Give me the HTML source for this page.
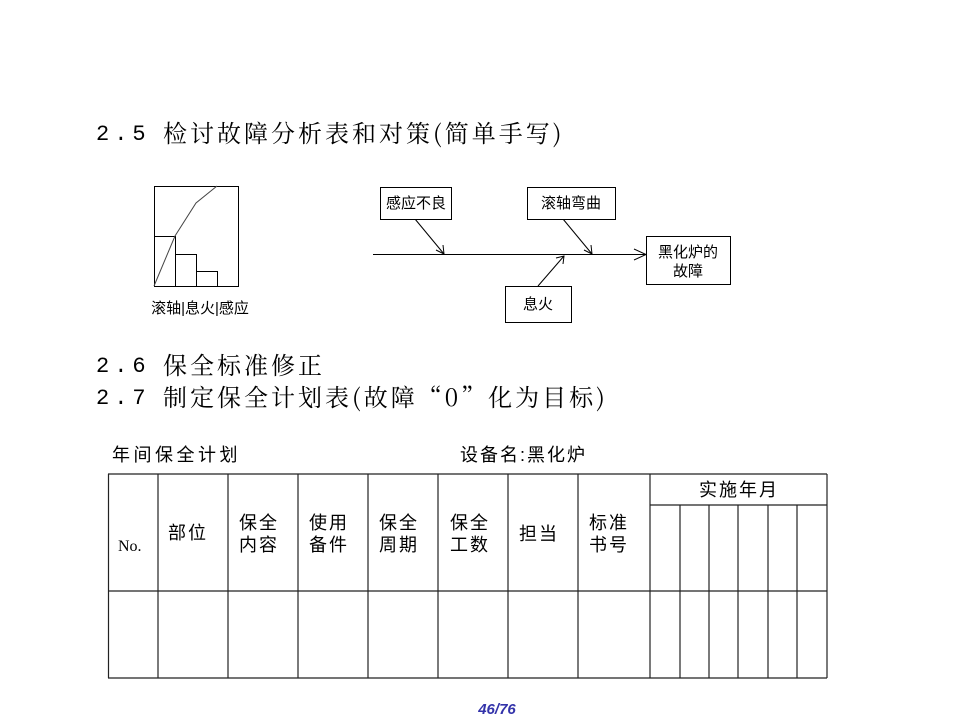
<!DOCTYPE html>
<html><head><meta charset="utf-8"><style>
body{margin:0;width:960px;height:720px;background:#fff;position:relative;overflow:hidden;font-family:"Liberation Serif","Noto Serif CJK SC",serif;}
.h{position:absolute;font-size:24px;color:#000;white-space:pre;line-height:30px;font-family:"Noto Serif CJK SC",serif;letter-spacing:3px;}
.n{position:absolute;left:96px;font-size:22px;letter-spacing:5px;font-family:"Liberation Mono",monospace;line-height:30px;}
</style></head><body>
<div class="n" style="top:120px">2.5</div>
<div class="h" style="top:117px;left:163px">检讨故障分析表和对策(简单手写)</div>
<div class="n" style="top:352px">2.6</div>
<div class="h" style="top:349px;left:163px">保全标准修正</div>
<div class="n" style="top:384px">2.7</div>
<div class="h" style="top:381px;left:163px">制定保全计划表(故障“0”化为目标)</div>
<svg width="960" height="720" style="position:absolute;left:0;top:0" font-family="Liberation Sans,Noto Sans CJK SC,sans-serif">
<g stroke="#000" fill="none" stroke-width="1">
<rect x="154.5" y="186.5" width="84" height="100"/>
<rect x="154.5" y="236.5" width="21" height="50"/>
<rect x="175.5" y="254.5" width="21" height="32"/>
<rect x="196.5" y="271.5" width="21" height="15"/>
<polyline points="154,286 175,236 196,203 217,186" stroke="#444"/>
<line x1="373" y1="254.5" x2="646" y2="254.5"/>
<polyline points="634,249 646,254.5 634,260"/>
<line x1="415" y1="219" x2="444" y2="254"/><polyline points="436,250 444,254 443,245"/>
<line x1="563" y1="219" x2="592" y2="254"/><polyline points="584,250 592,254 591,245"/>
<line x1="538" y1="286" x2="564" y2="256"/><polyline points="556,258 564,256 563,264"/>
<rect x="380.5" y="187.5" width="71" height="32" fill="#fff"/>
<rect x="527.5" y="187.5" width="88" height="32" fill="#fff"/>
<rect x="505.5" y="286.5" width="66" height="36" fill="#fff"/>
<rect x="646.5" y="236.5" width="84" height="48" fill="#fff"/>
</g>
<g font-size="15" fill="#000" text-anchor="middle">
<text x="416" y="208">感应不良</text>
<text x="571" y="208">滚轴弯曲</text>
<text x="538" y="309">息火</text>
<text x="688" y="257">黑化炉的</text>
<text x="688" y="276">故障</text>
<text x="200" y="313">滚轴|息火|感应</text>
</g>
<g stroke="#222" stroke-width="1.2" fill="none">
<line x1="108" y1="474" x2="827" y2="474"/>
<line x1="650" y1="505" x2="827" y2="505"/>
<line x1="108" y1="591" x2="827" y2="591"/>
<line x1="108" y1="678" x2="827" y2="678"/>
<line x1="108.5" y1="474" x2="108.5" y2="678"/>
<line x1="158" y1="474" x2="158" y2="678"/>
<line x1="228" y1="474" x2="228" y2="678"/>
<line x1="298" y1="474" x2="298" y2="678"/>
<line x1="368" y1="474" x2="368" y2="678"/>
<line x1="438" y1="474" x2="438" y2="678"/>
<line x1="508" y1="474" x2="508" y2="678"/>
<line x1="578" y1="474" x2="578" y2="678"/>
<line x1="650" y1="474" x2="650" y2="678"/>
<line x1="680" y1="505" x2="680" y2="678"/>
<line x1="709" y1="505" x2="709" y2="678"/>
<line x1="738" y1="505" x2="738" y2="678"/>
<line x1="768" y1="505" x2="768" y2="678"/>
<line x1="797" y1="505" x2="797" y2="678"/>
<line x1="827" y1="474" x2="827" y2="678"/>
</g>
<g font-size="18" fill="#000" letter-spacing="2">
<text x="112" y="461" letter-spacing="3.5">年间保全计划</text>
<text x="460" y="461" letter-spacing="2">设备名:黑化炉</text>
<text x="118" y="551" font-family="Liberation Serif,serif" font-size="16" letter-spacing="0">No.</text>
<text x="168" y="539">部位</text>
<text x="239" y="529">保全</text><text x="239" y="551">内容</text>
<text x="309" y="529">使用</text><text x="309" y="551">备件</text>
<text x="379" y="529">保全</text><text x="379" y="551">周期</text>
<text x="450" y="529">保全</text><text x="450" y="551">工数</text>
<text x="519" y="540">担当</text>
<text x="589" y="529">标准</text><text x="589" y="551">书号</text>
<text x="739" y="496" text-anchor="middle">实施年月</text>
</g>
<text x="497" y="714" text-anchor="middle" font-size="15" font-weight="bold" font-style="italic" fill="#3333aa" font-family="Liberation Sans,sans-serif">46/76</text>
</svg>
</body></html>
